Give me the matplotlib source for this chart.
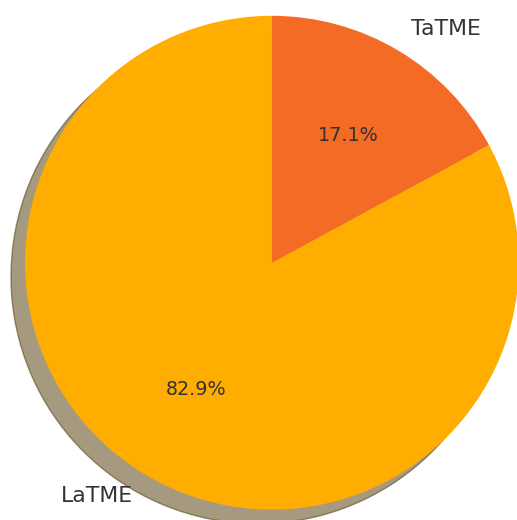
import matplotlib.pyplot as plt

# Share of each method
labels = ['TaTME', 'LaTME']
shares = [17.1, 82.9]
colors = ['#f46b25', '#ffad00']

fig = plt.figure(figsize=(5.17, 5.20), dpi=100)
ax = fig.add_axes([0, 0, 1, 1])

wedges, texts, autotexts = ax.pie(
    shares, labels=labels, colors=colors, autopct='%1.1f%%',
    startangle=90, counterclock=False,
    shadow={'ox': -0.041, 'oy': -0.041},
    textprops={'color': '#333333', 'fontsize': 13.8},
)
for t in texts:
    t.set_fontsize(15.8)

ax.set_xlim(-1.101, 0.992)
ax.set_ylim(-1.042, 1.064)
ax.set_aspect('equal')
ax.axis('off')

fig.savefig('out.png', dpi=100)
